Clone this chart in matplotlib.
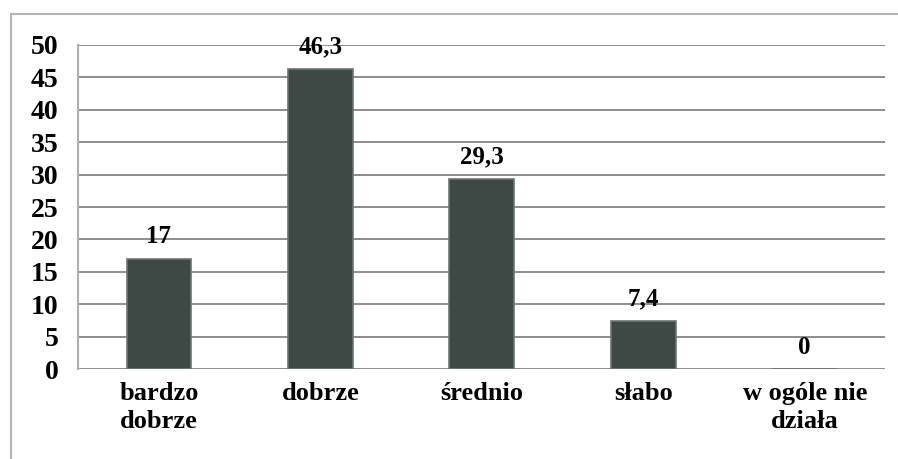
import matplotlib.pyplot as plt
from matplotlib.patches import Rectangle

categories = ['bardzo\ndobrze', 'dobrze', 'średnio', 'słabo', 'w ogóle nie\ndziała']
values = [17, 46.3, 29.3, 7.4, 0]
labels = ['17', '46,3', '29,3', '7,4', '0']

plt.rcParams['font.family'] = ['Liberation Serif', 'DejaVu Serif']
plt.rcParams['font.weight'] = 'bold'

fig = plt.figure(figsize=(8.98, 4.59), dpi=100)
ax = fig.add_axes([0.087, 0.196, 0.899, 0.706])

x = range(len(categories))
bars = ax.bar(x, values, width=0.4, color='#3e4945', edgecolor='#6b7571',
              linewidth=1.2, zorder=3)

for b, lab in zip(bars, labels):
    ax.text(b.get_x() + b.get_width() / 2, b.get_height() + 1.6, lab,
            ha='center', va='bottom', fontsize=18, fontweight='bold', zorder=4)

ax.set_xlim(-0.5, len(categories) - 0.5)
ax.set_ylim(0, 50)
ax.set_yticks(range(0, 51, 5))
ax.yaxis.grid(True, color='#7a7a7a', linewidth=1.2, zorder=0)
ax.set_axisbelow(True)

ax.set_xticks(list(x))
ax.set_xticklabels(categories, fontsize=19, fontweight='bold', linespacing=1.3)
ax.tick_params(axis='x', length=0, pad=9)
ax.tick_params(axis='y', length=0, pad=14, labelsize=20)

for s in ['top', 'right', 'bottom']:
    ax.spines[s].set_visible(False)
ax.spines['left'].set_color('#b0b0b0')
ax.spines['left'].set_linewidth(1.5)

# outer chart frame
fig.patches.append(Rectangle((0.012, -0.05), 1.2, 1.02, transform=fig.transFigure,
                             fill=False, edgecolor='#b5b5b5', linewidth=1.5))

fig.savefig('out.png', dpi=100)
